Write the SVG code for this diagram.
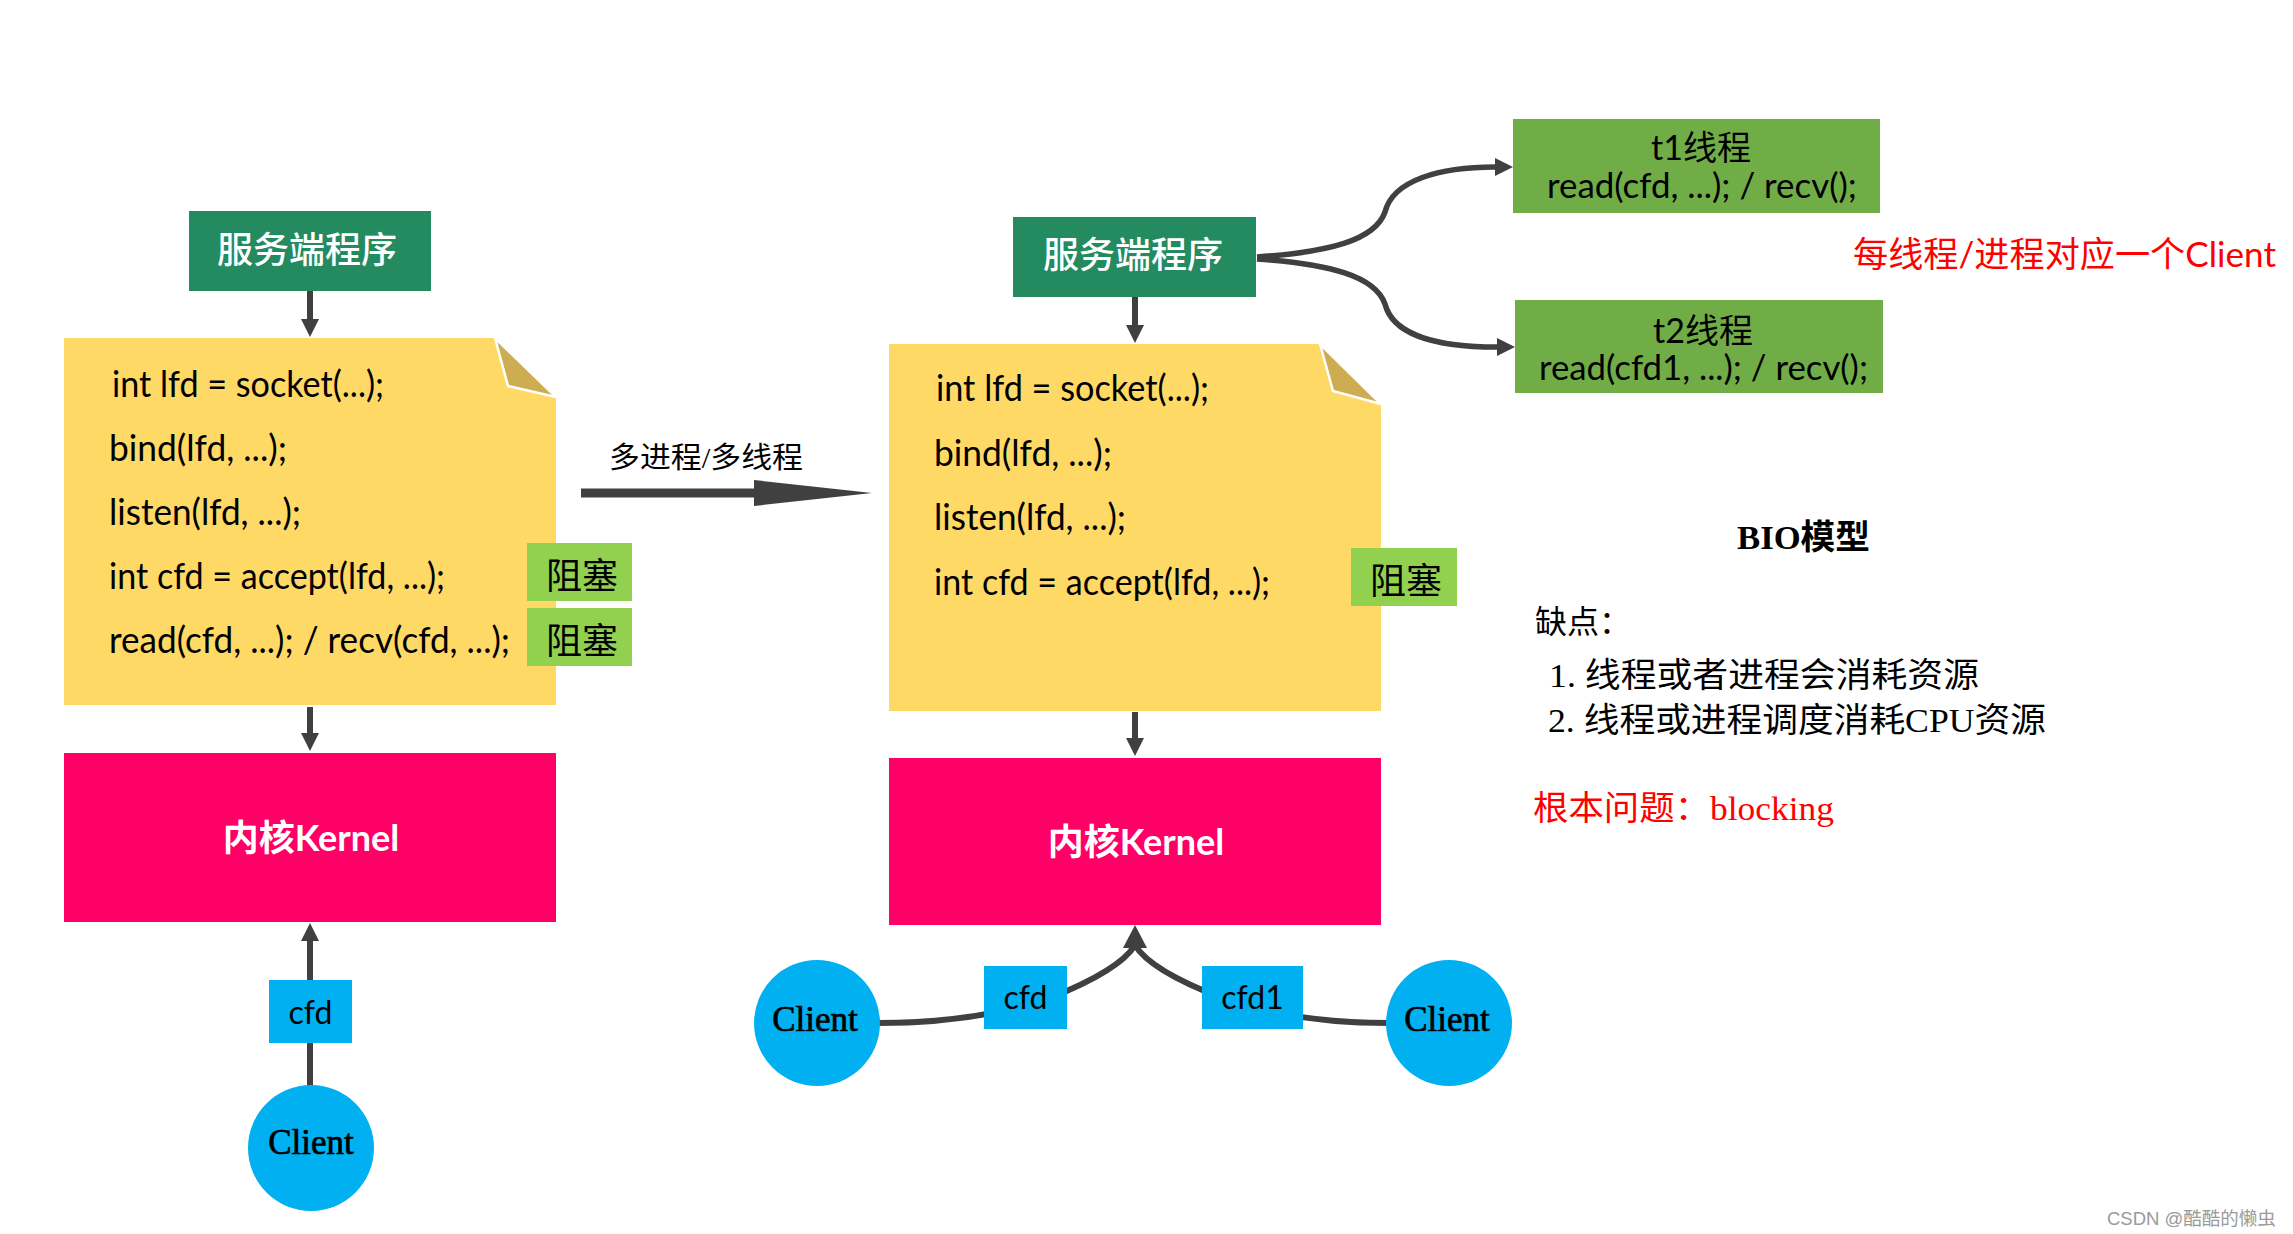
<svg xmlns="http://www.w3.org/2000/svg" width="2293" height="1234" viewBox="0 0 2293 1234">
<style>
.hdr{fill:#248A60}
.hdrt{fill:#fff;font-family:"Noto Sans CJK SC",sans-serif;font-size:36px;font-weight:500;text-anchor:middle}
.note{fill:#FFD966}
.fold{fill:#CDAC52;stroke:#fff;stroke-width:2.5}
.code{font-family:Lato,"Noto Sans CJK SC",sans-serif;font-size:36px;fill:#000}
.blk{fill:#92D050}
.blkt{font-family:"Liberation Serif","Noto Sans CJK SC",serif;font-size:36px;fill:#000;text-anchor:middle}
.kern{fill:#FF0066}
.kernt{font-family:Lato,"Noto Sans CJK SC",sans-serif;font-size:36px;font-weight:bold;fill:#fff;text-anchor:middle}
.fd{fill:#00B0F0}
.fdt{font-family:Lato,sans-serif;font-size:32px;fill:#000;text-anchor:middle}
.cli{fill:#00B0F0}
.clit{font-family:"Liberation Serif",serif;font-size:35px;fill:#000;stroke:#000;stroke-width:0.7;text-anchor:middle}
.thr{fill:#70AD47}
.thrt{font-family:Lato,"Noto Sans CJK SC",sans-serif;font-size:34px;fill:#000;text-anchor:middle}
.ser{font-family:"Liberation Serif","Noto Sans CJK SC",serif;fill:#000}
.conn{fill:none;stroke:#404040;stroke-width:6}
.head{fill:#404040}
</style>
<defs>
<marker id="ah" viewBox="0 0 18 18" refX="0" refY="9" markerWidth="18" markerHeight="18" markerUnits="userSpaceOnUse" orient="auto"><path d="M0,0 L18,9 L0,18 z" fill="#404040"/></marker>
</defs>
<rect width="2293" height="1234" fill="#fff"/>

<g id="connectors">
<path class="conn" d="M310 291 V319" marker-end="url(#ah)"/>
<path class="conn" d="M310 707 V733" marker-end="url(#ah)"/>
<path class="conn" d="M310 980 V941" marker-end="url(#ah)"/>
<path class="conn" d="M310 1043 V1086"/>
<path class="conn" d="M581 493 H756" style="stroke-width:9"/>
<polygon class="head" points="754,480 872,493 754,506"/>
<path class="conn" d="M1135 297 V325" marker-end="url(#ah)"/>
<path class="conn" d="M1135 712 V738" marker-end="url(#ah)"/>
<path class="conn" d="M878 1023 C940 1023 1000 1015 1050 998 C1095 980 1125 962 1135 945"/>
<path class="conn" d="M1389 1023 C1330 1023 1270 1015 1222 998 C1175 980 1145 962 1135 945"/>
<polygon class="head" points="1135,925 1123,948 1147,948"/>
<path class="conn" style="stroke-width:5.5" d="M1257 257 C1330 252 1375 240 1385 212 C1393 180 1440 167 1495 167" marker-end="url(#ah)"/>
<path class="conn" style="stroke-width:5.5" d="M1257 259 C1330 264 1375 276 1385 304 C1393 336 1440 347 1497 347" marker-end="url(#ah)"/>
</g>

<g id="server-left">
<rect class="hdr" x="189" y="211" width="242" height="80"/>
<text class="hdrt" x="307" y="263">服务端程序</text>
</g>

<g id="code-left">
<polygon class="note" points="64,338 495,338 556,397 556,705 64,705"/>
<polygon class="fold" points="495,338 508,386 556,397"/>
<text class="code" x="112" y="397" textLength="272" lengthAdjust="spacingAndGlyphs">int lfd = socket(...);</text>
<text class="code" x="109" y="461" textLength="178" lengthAdjust="spacingAndGlyphs">bind(lfd, ...);</text>
<text class="code" x="109" y="525" textLength="192" lengthAdjust="spacingAndGlyphs">listen(lfd, ...);</text>
<text class="code" x="109" y="589" textLength="336" lengthAdjust="spacingAndGlyphs">int cfd = accept(lfd, ...);</text>
<text class="code" x="109" y="653" textLength="401" lengthAdjust="spacingAndGlyphs">read(cfd, ...); / recv(cfd, ...);</text>
</g>

<g id="block-left-1">
<rect class="blk" x="527" y="543" width="105" height="58"/>
<text class="blkt" x="582" y="589">阻塞</text>
</g>
<g id="block-left-2">
<rect class="blk" x="527" y="608" width="105" height="58"/>
<text class="blkt" x="582" y="654">阻塞</text>
</g>

<g id="kernel-left">
<rect class="kern" x="64" y="753" width="492" height="169"/>
<text class="kernt" x="311" y="851">内核Kernel</text>
</g>

<g id="cfd-left">
<rect class="fd" x="269" y="980" width="83" height="63"/>
<text class="fdt" x="310.5" y="1024">cfd</text>
</g>

<g id="client-left">
<circle class="cli" cx="311" cy="1148" r="63"/>
<text class="clit" x="311" y="1154">Client</text>
</g>

<g id="label-mid">
<text class="ser" x="609" y="468" font-size="29" textLength="194" lengthAdjust="spacingAndGlyphs">多进程/多线程</text>
</g>

<g id="server-right">
<rect class="hdr" x="1013" y="217" width="243" height="80"/>
<text class="hdrt" x="1133" y="268">服务端程序</text>
</g>

<g id="code-right">
<polygon class="note" points="889,344 1320,344 1381,404 1381,711 889,711"/>
<polygon class="fold" points="1320,344 1333,391 1381,404"/>
<text class="code" x="936" y="401" textLength="273" lengthAdjust="spacingAndGlyphs">int lfd = socket(...);</text>
<text class="code" x="934" y="466" textLength="178" lengthAdjust="spacingAndGlyphs">bind(lfd, ...);</text>
<text class="code" x="934" y="530" textLength="192" lengthAdjust="spacingAndGlyphs">listen(lfd, ...);</text>
<text class="code" x="934" y="595" textLength="336" lengthAdjust="spacingAndGlyphs">int cfd = accept(lfd, ...);</text>
</g>

<g id="block-right">
<rect class="blk" x="1351" y="548" width="106" height="58"/>
<text class="blkt" x="1406" y="594">阻塞</text>
</g>

<g id="kernel-right">
<rect class="kern" x="889" y="758" width="492" height="167"/>
<text class="kernt" x="1136" y="855">内核Kernel</text>
</g>

<g id="cfd-right">
<rect class="fd" x="984" y="966" width="83" height="63"/>
<text class="fdt" x="1025.5" y="1009">cfd</text>
</g>

<g id="cfd1-right">
<rect class="fd" x="1202" y="966" width="101" height="63"/>
<text class="fdt" x="1252.5" y="1009">cfd1</text>
</g>

<g id="client-right-1">
<circle class="cli" cx="817" cy="1023" r="63"/>
<text class="clit" x="815" y="1031">Client</text>
</g>

<g id="client-right-2">
<circle class="cli" cx="1449" cy="1023" r="63"/>
<text class="clit" x="1447" y="1031">Client</text>
</g>

<g id="thread-t1">
<rect class="thr" x="1513" y="119" width="367" height="94"/>
<text class="thrt" x="1701" y="160">t1线程</text>
<text class="thrt" x="1702" y="198" textLength="310" lengthAdjust="spacingAndGlyphs">read(cfd, ...); / recv();</text>
</g>

<g id="thread-t2">
<rect class="thr" x="1515" y="300" width="368" height="93"/>
<text class="thrt" x="1703" y="343">t2线程</text>
<text class="thrt" x="1703.5" y="380" textLength="329" lengthAdjust="spacingAndGlyphs">read(cfd1, ...); / recv();</text>
</g>

<g id="note-red">
<text x="1853" y="267" font-family="Lato, 'Noto Sans CJK SC', sans-serif" font-size="35" fill="#FF0000" textLength="423" lengthAdjust="spacingAndGlyphs">每线程/进程对应一个Client</text>
</g>

<g id="bio-text">
<text class="ser" x="1737" y="549" font-size="34" font-weight="bold" textLength="133" lengthAdjust="spacingAndGlyphs">BIO模型</text>
<text class="ser" x="1535" y="633" font-size="32">缺点：</text>
<text class="ser" x="1549" y="687" font-size="34" textLength="430" lengthAdjust="spacingAndGlyphs">1. 线程或者进程会消耗资源</text>
<text class="ser" x="1548" y="732" font-size="34" textLength="498" lengthAdjust="spacingAndGlyphs">2. 线程或进程调度消耗CPU资源</text>
<text class="ser" x="1533" y="820" font-size="34" style="fill:#FF0000" textLength="301" lengthAdjust="spacingAndGlyphs">根本问题：blocking</text>
</g>

<g id="watermark">
<text x="2107" y="1225" font-family="'Liberation Sans', 'Noto Sans CJK SC', sans-serif" font-size="18.5" fill="#9a9a9a">CSDN @酷酷的懒虫</text>
</g>
</svg>
